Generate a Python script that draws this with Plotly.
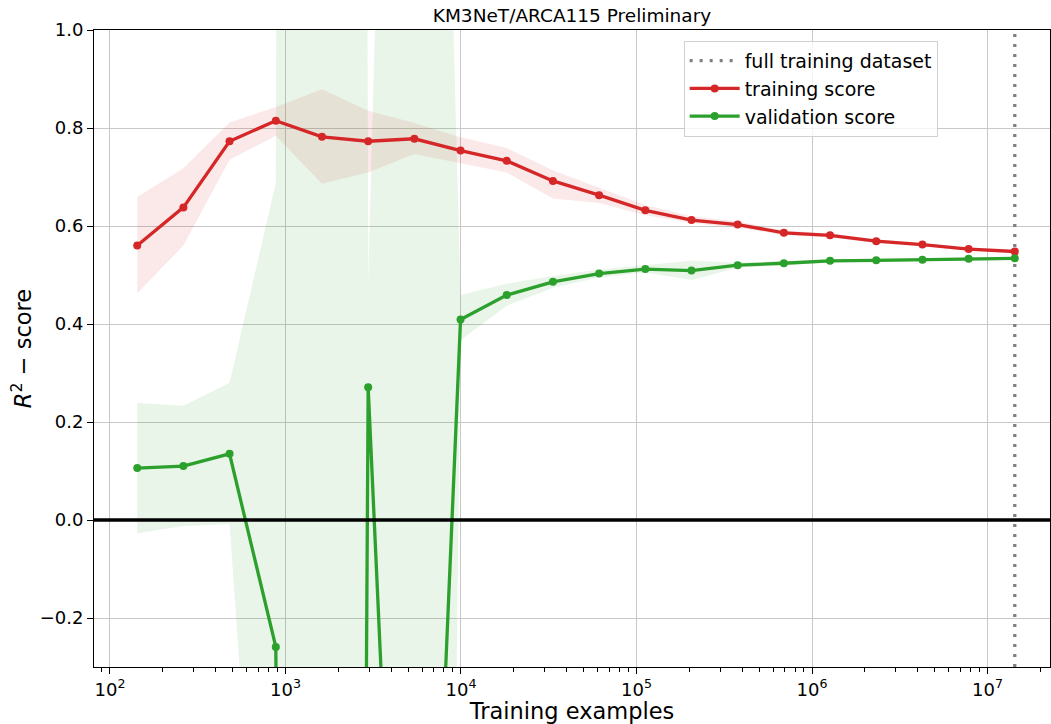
import plotly.graph_objects as go

# Learning curve: training-set sizes and cross-validated R^2 scores
train_sizes = [143, 262, 480, 881, 1614, 2959, 5424, 9941, 18222, 33401,
               61223, 112221, 205700, 377044, 691118, 1266799, 2321990,
               4256196, 7801546, 14300000]
full_dataset = 14300000

train_mean = [0.560, 0.638, 0.773, 0.815, 0.782, 0.773, 0.778, 0.754, 0.733, 0.692,
              0.663, 0.632, 0.612, 0.603, 0.586, 0.581, 0.569, 0.562, 0.553, 0.548]
train_upper = [0.659, 0.718, 0.811, 0.843, 0.879, 0.835, 0.810, 0.781, 0.759, 0.714,
               0.678, 0.643, 0.620, 0.609, 0.591, 0.585, 0.573, 0.565, 0.556, 0.551]
train_lower = [0.463, 0.560, 0.735, 0.784, 0.686, 0.709, 0.747, 0.728, 0.709, 0.656,
               0.647, 0.622, 0.606, 0.597, 0.581, 0.577, 0.565, 0.559, 0.550, 0.545]

valid_mean = [0.106, 0.110, 0.135, -0.259, -15.0, 0.271, -1.80, 0.409, 0.459, 0.486,
              0.503, 0.512, 0.509, 0.520, 0.524, 0.529, 0.530, 0.531, 0.533, 0.534]
valid_upper = [0.239, 0.233, 0.280, 0.688, 40.0, 0.488, 4.00, 0.459, 0.482, 0.498,
               0.511, 0.520, 0.529, 0.525, 0.528, 0.532, 0.533, 0.534, 0.536, 0.537]
valid_lower = [-0.027, -0.012, -0.008, -1.35, -70.0, -30.0, -7.60, 0.367, 0.437, 0.474,
               0.495, 0.505, 0.490, 0.515, 0.520, 0.526, 0.527, 0.528, 0.530, 0.531]

y_range = [-0.3, 1.0]
x_range_log = [1.909, 7.356]
y_ticks = [-0.2, 0.0, 0.2, 0.4, 0.6, 0.8, 1.0]
x_ticks = [1e2, 1e3, 1e4, 1e5, 1e6, 1e7]
x_ticklabels = ["10<sup>2</sup>", "10<sup>3</sup>", "10<sup>4</sup>",
                "10<sup>5</sup>", "10<sup>6</sup>", "10<sup>7</sup>"]

RED = "#d62728"
GREEN = "#2ca02c"
FONT = "DejaVu Sans"

minor_ticks = [k * 10 ** e for e in range(1, 8) for k in range(2, 10)]

fig = go.Figure()

# shaded spread bands
fig.add_trace(go.Scatter(x=train_sizes, y=train_lower, mode="lines",
                         line=dict(width=0, color=RED), showlegend=False,
                         hoverinfo="skip"))
fig.add_trace(go.Scatter(x=train_sizes, y=train_upper, mode="lines",
                         line=dict(width=0, color=RED), fill="tonexty",
                         fillcolor="rgba(214,39,40,0.1)", showlegend=False,
                         hoverinfo="skip"))
fig.add_trace(go.Scatter(x=train_sizes, y=valid_lower, mode="lines",
                         line=dict(width=0, color=GREEN), showlegend=False,
                         hoverinfo="skip"))
fig.add_trace(go.Scatter(x=train_sizes, y=valid_upper, mode="lines",
                         line=dict(width=0, color=GREEN), fill="tonexty",
                         fillcolor="rgba(44,160,44,0.1)", showlegend=False,
                         hoverinfo="skip"))

# full dataset marker
fig.add_trace(go.Scatter(x=[full_dataset, full_dataset], y=y_range, mode="lines",
                         line=dict(color="#808080", width=3.3, dash="3px,7px"),
                         name="full training dataset"))

fig.add_trace(go.Scatter(x=train_sizes, y=train_mean, mode="lines+markers",
                         line=dict(color=RED, width=3.3),
                         marker=dict(color=RED, size=8),
                         name="training score"))
fig.add_trace(go.Scatter(x=train_sizes, y=valid_mean, mode="lines+markers",
                         line=dict(color=GREEN, width=3.3),
                         marker=dict(color=GREEN, size=8),
                         name="validation score"))

fig.add_hline(y=0, line=dict(color="black", width=3.3), layer="above")

fig.update_layout(
    width=1051, height=724,
    margin=dict(l=94, r=1, t=30, b=57),
    paper_bgcolor="white", plot_bgcolor="white",
    font=dict(family=FONT, color="black", size=18),
    title=dict(text="KM3NeT/ARCA115 Preliminary", x=0.5, xref="paper",
               xanchor="center", y=1 - 16 / 724, yref="container",
               yanchor="middle", font=dict(size=18.5, family=FONT)),
    showlegend=True,
    legend=dict(x=0.6168, y=0.983, xanchor="left", yanchor="top",
                traceorder="normal", itemwidth=50,
                bgcolor="rgba(255,255,255,0.8)", bordercolor="#d0d0d0",
                borderwidth=1, font=dict(size=19, family=FONT),
                tracegroupgap=0),
)

fig.update_xaxes(
    type="log", range=x_range_log,
    tickvals=x_ticks, ticktext=x_ticklabels,
    ticks="outside", ticklen=6, tickwidth=1, tickcolor="black",
    tickfont=dict(size=18, family=FONT),
    showgrid=True, gridcolor="#c8c8c8", gridwidth=1,
    showline=True, linecolor="black", linewidth=1, mirror=True,
    minor=dict(tickvals=minor_ticks, ticks="outside", ticklen=3.5,
               tickwidth=0.8, tickcolor="black", showgrid=False),
    title=dict(text="Training examples", font=dict(size=22.5, family=FONT),
               standoff=0),
    zeroline=False,
)
fig.update_yaxes(
    range=y_range, tickvals=y_ticks, tickformat=".1f",
    ticks="outside", ticklen=6, tickwidth=1, tickcolor="black",
    tickfont=dict(size=18, family=FONT),
    showgrid=True, gridcolor="#c8c8c8", gridwidth=1,
    showline=True, linecolor="black", linewidth=1, mirror=True,
    title=dict(text="<i>R</i><sup>2</sup> − score",
               font=dict(size=22.5, family=FONT), standoff=1),
    zeroline=False,
)

fig.write_html("out.html")
